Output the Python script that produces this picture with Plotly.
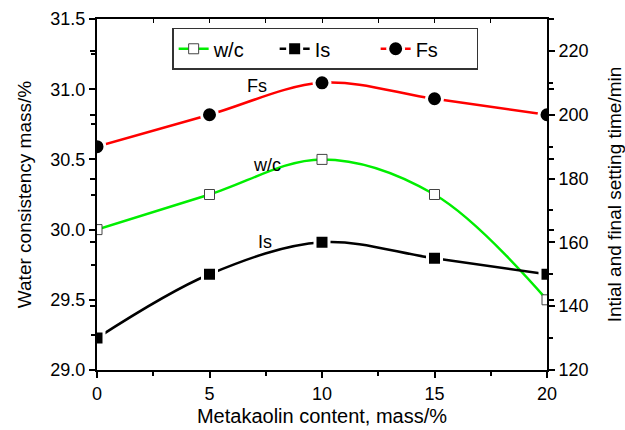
import plotly.graph_objects as go

content = [0, 5, 10, 15, 20]
wc = [30.0, 30.25, 30.5, 30.25, 29.5]
initial_set = [130, 150, 160, 155, 150]
final_set = [190, 200, 210, 205, 200]

FONT = "Liberation Sans, Arial, sans-serif"

fig = go.Figure()
fig.add_trace(go.Scatter(
    x=content, y=wc, name="w/c", mode="lines+markers",
    line=dict(color="#00ee00", width=2.5, shape="spline", smoothing=1.0),
    marker=dict(symbol="square", size=10, color="white", line=dict(color="#444444", width=1)),
    yaxis="y"))
fig.add_trace(go.Scatter(
    x=content, y=initial_set, name="Is", mode="lines+markers",
    line=dict(color="black", width=2.5, shape="spline", smoothing=1.0),
    marker=dict(symbol="square", size=14, color="black", line=dict(color="white", width=3)),
    yaxis="y2"))
fig.add_trace(go.Scatter(
    x=content, y=final_set, name="Fs\u00a0\u00a0\u00a0\u00a0\u00a0\u00a0\u00a0\u00a0", mode="lines+markers",
    line=dict(color="#ff0000", width=2.5, shape="spline", smoothing=1.0),
    marker=dict(symbol="circle", size=16, color="black", line=dict(color="white", width=3)),
    yaxis="y2"))

fig.add_annotation(x=7.11, y=31.02, text="Fs", showarrow=False, xref="x", yref="y",
                   font=dict(family=FONT, size=18, color="black"))
fig.add_annotation(x=7.56, y=30.46, text="w/c", showarrow=False, xref="x", yref="y",
                   font=dict(family=FONT, size=18, color="black"))
fig.add_annotation(x=7.47, y=29.91, text="Is", showarrow=False, xref="x", yref="y",
                   font=dict(family=FONT, size=18, color="black"))

axis_common = dict(showgrid=False, zeroline=False, showline=True, linecolor="black", linewidth=2,
                   ticks="outside", ticklen=6, tickwidth=2, tickcolor="black", automargin=False,
                   tickfont=dict(family=FONT, size=18, color="black"))
minor_common = dict(ticks="outside", ticklen=4, tickwidth=2, tickcolor="black")

fig.update_layout(
    width=625, height=430,
    margin=dict(l=97, r=78, t=19, b=60),
    plot_bgcolor="white", paper_bgcolor="white",
    font=dict(family=FONT, color="black"),
    xaxis=dict(range=[0, 20], dtick=5, tick0=0,
               minor=dict(dtick=2.5, **minor_common),
               title=dict(text="Metakaolin content, mass/%", font=dict(family=FONT, size=20), standoff=6),
               **axis_common),
    xaxis2=dict(range=[0, 20], overlaying="x", side="top", showticklabels=False,
                showgrid=False, zeroline=False, showline=True, linecolor="black", linewidth=2,
                ticks="inside", ticklen=4, tickwidth=1, tickcolor="black", dtick=2.5, tick0=0),
    yaxis=dict(range=[29.0, 31.5], dtick=0.5, tick0=29.0, tickformat=".1f",
               minor=dict(dtick=0.25, **minor_common),
               title=dict(text="Water consistency mass/%", font=dict(family=FONT, size=19), standoff=14),
               **axis_common),
    yaxis2=dict(range=[120, 230], dtick=20, tick0=120, overlaying="y", side="right",
                minor=dict(dtick=10, **minor_common),
                title=dict(text="Intial and final setting time/min", font=dict(family=FONT, size=19), standoff=22),
                **axis_common),
    # mirrored tick sets (right-axis ticks on left side, left-axis ticks on right side)
    yaxis3=dict(range=[120, 230], dtick=20, tick0=120, overlaying="y", side="left",
                showticklabels=False, showgrid=False, zeroline=False, showline=False,
                ticks="outside", ticklen=6, tickwidth=2, tickcolor="black"),
    yaxis4=dict(range=[29.0, 31.5], dtick=0.5, tick0=29.0, overlaying="y", side="right",
                showticklabels=False, showgrid=False, zeroline=False, showline=False,
                ticks="outside", ticklen=6, tickwidth=2, tickcolor="black"),
    legend=dict(orientation="h", x=0.167, xanchor="left", y=0.975, yanchor="top",
                bordercolor="#333333", borderwidth=1.5, bgcolor="white",
                font=dict(family=FONT, size=20, color="black"),
                entrywidth=56, entrywidthmode="pixels", tracegroupgap=0),
    showlegend=True,
)
# invisible traces to activate the extra axes
fig.add_trace(go.Scatter(x=[0], y=[29.0], xaxis="x2", yaxis="y", mode="markers",
                         marker=dict(opacity=0), showlegend=False, hoverinfo="skip"))
fig.add_trace(go.Scatter(x=[0], y=[120], xaxis="x", yaxis="y3", mode="markers",
                         marker=dict(opacity=0), showlegend=False, hoverinfo="skip"))
fig.add_trace(go.Scatter(x=[0], y=[29.0], xaxis="x", yaxis="y4", mode="markers",
                         marker=dict(opacity=0), showlegend=False, hoverinfo="skip"))

fig.write_html("out.html")
